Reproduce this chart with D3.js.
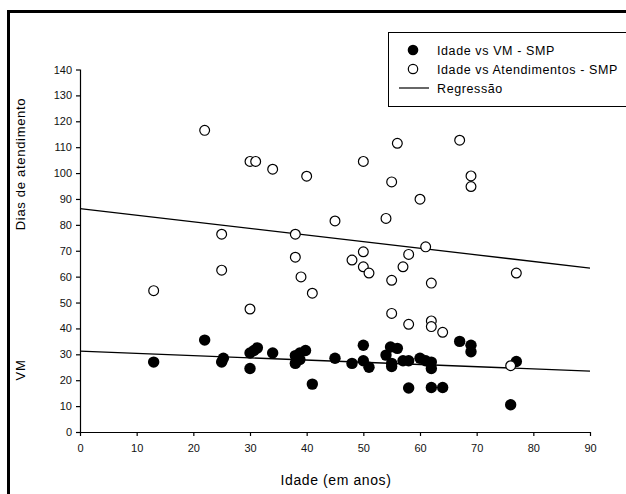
<!DOCTYPE html>
<html>
<head>
<meta charset="utf-8">
<script src="https://d3js.org/d3.v7.min.js"></script>
<style>
  body { margin: 0; background: #fff; }
  svg { display: block; font-family: Arial, "Liberation Sans", sans-serif; }
</style>
</head>
<body>
<div id="chart"></div>
<script>
// idade (anos) e atendimentos - SMP (circulos abertos)
var idadeAtend = [22, 30, 31, 34, 40, 45, 25, 38, 38, 39, 41, 25, 13, 30,
  56, 67, 50, 55, 69, 69, 60, 54, 61, 50, 58, 48, 50, 51, 57, 55, 62, 77,
  55, 58, 62, 62, 64, 76];
var atend = [116.5, 104.5, 104.5, 101.5, 98.8, 81.5, 76.4, 76.4, 67.5, 59.9, 53.6, 62.5, 54.6, 47.5,
  111.5, 112.7, 104.5, 96.6, 98.9, 94.8, 89.9, 82.5, 71.5, 69.6, 68.6, 66.4, 63.8, 61.4, 63.8, 58.6, 57.5, 61.4,
  45.8, 41.6, 42.9, 40.7, 38.5, 25.6];

// idade e VM - SMP (circulos cheios)
var idadeVM = [13, 22, 25, 25.3, 30, 30, 30.7, 31.3, 34, 38, 38, 38.8, 39.8, 38.8, 41,
  45, 48, 50, 50, 51, 54.8, 56, 54, 55, 55, 57, 58, 58, 60, 61, 62, 62, 62, 64,
  67, 69, 69, 77, 76];
var vm = [27, 35.5, 27, 28.5, 30.5, 24.5, 31.5, 32.5, 30.5, 29.5, 26.5, 30.5, 31.5, 28, 18.5,
  28.5, 26.5, 33.5, 27.5, 25, 32.8, 32.3, 29.7, 26.5, 25.3, 27.5, 27.5, 17, 28.5, 27.5, 27, 24.5, 17.2, 17.2,
  35, 33.5, 31, 27.2, 10.5];

// retas de regressao (x = 0 e x = 90)
var regX = [0, 90];
var regAtend = [86.3, 63.3];
var regVM = [31.2, 23.5];

var xTicks = [0, 10, 20, 30, 40, 50, 60, 70, 80, 90];
var yTicks = [0, 10, 20, 30, 40, 50, 60, 70, 80, 90, 100, 110, 120, 130, 140];

var W = 626, H = 494;
var svg = d3.select("#chart").append("svg").attr("width", W).attr("height", H);
svg.append("rect").attr("width", W).attr("height", H).attr("fill", "#fff");

// moldura preta (topo e esquerda)
svg.append("path")
  .attr("d", "M8.5,494 V11.5 H626")
  .attr("fill", "none").attr("stroke", "#000").attr("stroke-width", 3);

var x = d3.scaleLinear().domain([0, 90]).range([80, 590]);
var y = d3.scaleLinear().domain([0, 140]).range([432, 69.5]);

var xAxis = svg.append("g").attr("transform", "translate(0,432)")
  .call(d3.axisBottom(x).tickValues(xTicks).tickSize(4).tickPadding(8));
var yAxis = svg.append("g").attr("transform", "translate(80,0)")
  .call(d3.axisLeft(y).tickValues(yTicks).tickSize(4).tickPadding(4));
[xAxis, yAxis].forEach(function(a) {
  a.selectAll("path, line").attr("stroke", "#000").attr("stroke-width", 1.2);
  a.selectAll("text").attr("fill", "#111").style("font-size", "11px")
    .style("font-family", "Arial, 'Liberation Sans', sans-serif");
});
xAxis.select(".domain").attr("d", "M80,0.5H590");
yAxis.select(".domain").attr("d", "M0.5,69.5V432");

// titulos
svg.append("text").attr("x", 336).attr("y", 485).attr("text-anchor", "middle")
  .style("font-size", "14px").style("letter-spacing", "0.6px").text("Idade (em anos)");
svg.append("text").attr("transform", "translate(25,164) rotate(-90)")
  .attr("text-anchor", "middle").style("font-size", "13px").style("letter-spacing", "0.7px")
  .text("Dias de atendimento");
svg.append("text").attr("transform", "translate(25,370) rotate(-90)")
  .attr("text-anchor", "middle").style("font-size", "13px").style("letter-spacing", "0.7px").text("VM");

// regressoes
var line = d3.line().x(function(d) { return x(d[0]); }).y(function(d) { return y(d[1]); });
[regAtend, regVM].forEach(function(r) {
  svg.append("path").datum(d3.zip(regX, r)).attr("d", line)
    .attr("fill", "none").attr("stroke", "#000").attr("stroke-width", 1.3);
});

// pontos
svg.selectAll(".vm").data(d3.zip(idadeVM, vm)).enter().append("circle")
  .attr("cx", function(d) { return x(d[0]); }).attr("cy", function(d) { return y(d[1]); })
  .attr("r", 5.7).attr("fill", "#000");
svg.selectAll(".at").data(d3.zip(idadeAtend, atend)).enter().append("circle")
  .attr("cx", function(d) { return x(d[0]); }).attr("cy", function(d) { return y(d[1]); })
  .attr("r", 4.9).attr("fill", "#fff").attr("stroke", "#000").attr("stroke-width", 1.2);

// legenda
var lg = svg.append("g");
lg.append("rect").attr("x", 388.5).attr("y", 32.5).attr("width", 240).attr("height", 74)
  .attr("fill", "#fff").attr("stroke", "#000").attr("stroke-width", 1);
var rows = ["Idade vs VM - SMP", "Idade vs Atendimentos - SMP", "Regressão"];
rows.forEach(function(t, i) {
  lg.append("text").attr("x", 437).attr("y", 50 + i * 19 + 4.5)
    .style("font-size", "12.5px").style("letter-spacing", "0.6px").text(t);
});
lg.append("circle").attr("cx", 413).attr("cy", 50).attr("r", 5.3).attr("fill", "#000");
lg.append("circle").attr("cx", 413).attr("cy", 69).attr("r", 4.7).attr("fill", "#fff")
  .attr("stroke", "#000").attr("stroke-width", 1.2);
lg.append("line").attr("x1", 399).attr("x2", 429).attr("y1", 88).attr("y2", 88)
  .attr("stroke", "#000").attr("stroke-width", 1.2);
</script>
</body>
</html>
